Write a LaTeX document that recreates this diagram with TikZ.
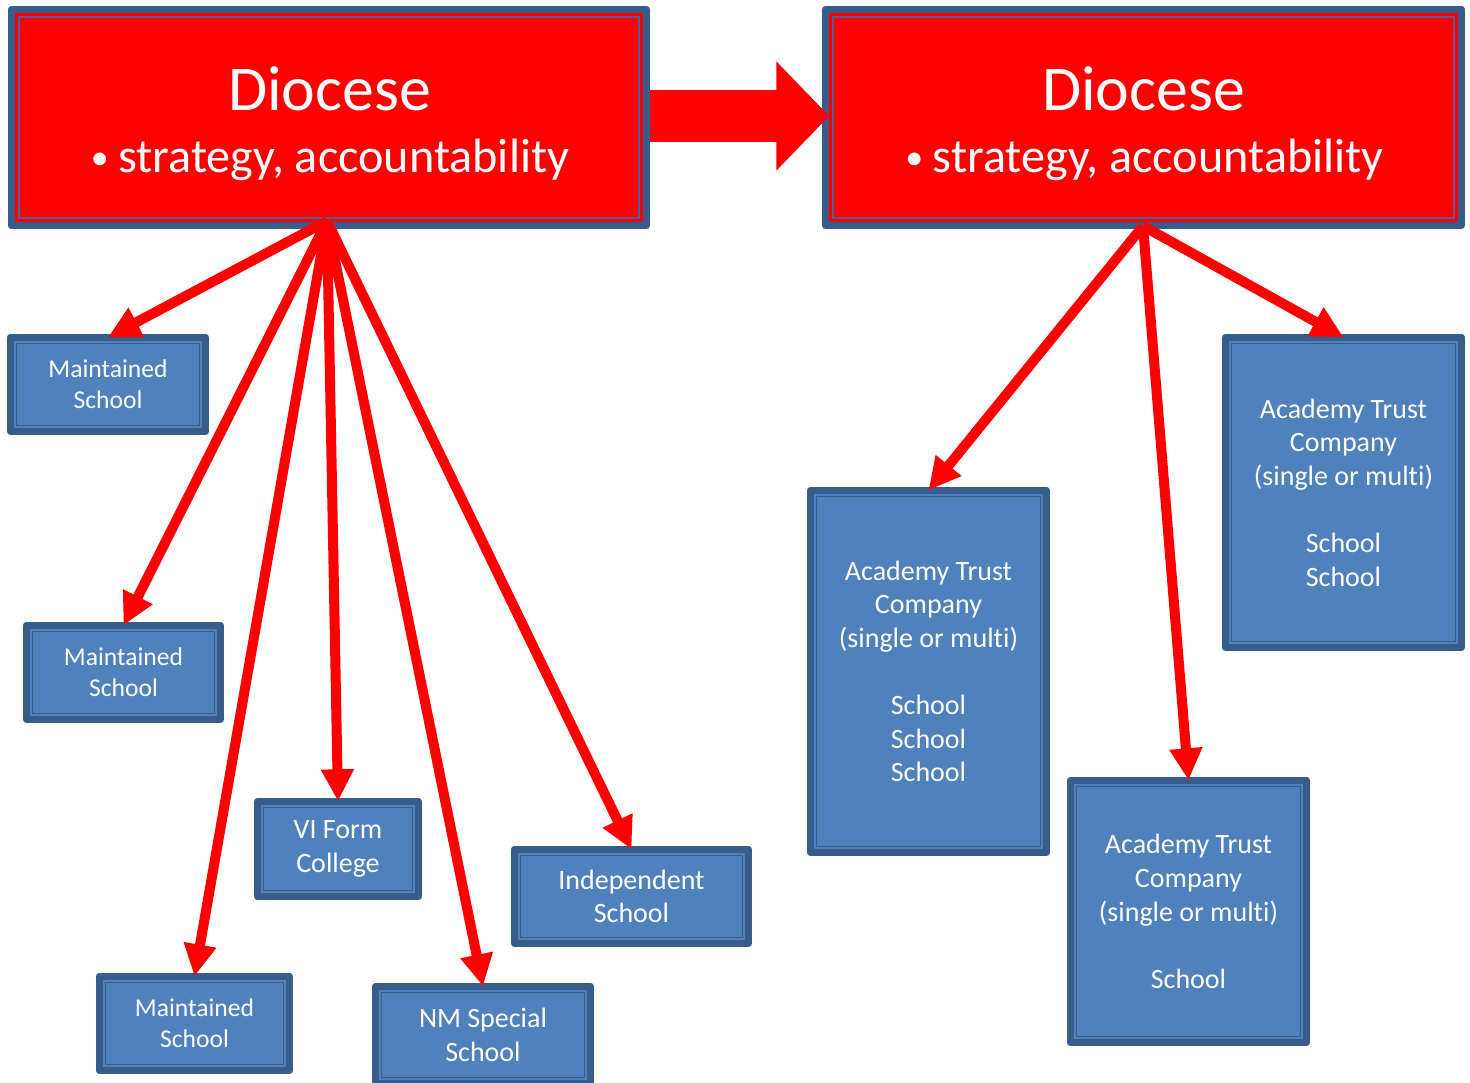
\documentclass[tikz,border=0pt]{standalone}
\usepackage{fontspec}
\setmainfont{Carlito}[Ligatures=NoCommon]
\usetikzlibrary{arrows.meta,calc}
\definecolor{bdark}{HTML}{385D8A}
\definecolor{bfill}{HTML}{4F81BD}
\definecolor{rinner}{HTML}{50609A}
\newcommand{\mybullet}{\raisebox{3pt}{\fontsize{36}{40}\selectfont\textbullet}\hspace{9.5pt}}
\begin{document}
\begin{tikzpicture}[x=1pt,y=-1pt,
  boxbase/.style={draw=bdark, line width=6.6pt, line join=round, outer sep=0pt, inner sep=0pt, text=white, align=center},
  bluebox/.style={boxbase, fill=bfill, font=\fontsize{28}{33.6}\selectfont},
  msbox/.style={bluebox, font=\fontsize{25.6}{30.7}\selectfont},
  redbox/.style={boxbase, fill=red},
  innerb/.style={draw=bdark, line width=1.4pt},
  innerr/.style={draw=rinner, line width=2pt},
  dtitle/.style={text=white, inner sep=0pt, font=\fontsize{63.8}{70}\selectfont},
  dbullet/.style={text=white, inner sep=0pt, font=\fontsize{48.2}{56}\selectfont},
  arr/.style={draw=red, line width=10pt, -{Triangle[length=32pt,width=31pt]}},
  bigarr/.style={draw=red, line width=52pt, -{Triangle[length=53pt,width=106pt]}, shorten >=-4pt, shorten <=3.3pt}
]
\useasboundingbox (0,0) rectangle (1470,1082);
\clip (0,0) rectangle (1470,1082);

% Diocese boxes
\node[redbox, minimum width=635.4pt, minimum height=216.4pt] (dioL) at (329,117.5) {};
\node[redbox, minimum width=636.4pt, minimum height=216.4pt] (dioR) at (1143.5,117.5) {};
\foreach \n in {dioL,dioR}
  \draw[innerr] ([shift={(7.7pt,-7.7pt)}]\n.north west) rectangle ([shift={(-7.7pt,7.7pt)}]\n.south east);
\node[dtitle, anchor=base] (dioLt) at (329.5,110) {Diocese};
\node[dbullet, anchor=base] (dioLb) at (330,172) {\mybullet strategy, accountability};
\node[dtitle, anchor=base] (dioRt) at (1143.5,110) {Diocese};
\node[dbullet, anchor=base] (dioRb) at (1144.5,172) {\mybullet strategy, accountability};

% school boxes
\node[msbox, minimum width=195.4pt, minimum height=94.4pt] (ms1) at (108,384.5) {Maintained\\School};
\node[msbox, minimum width=194.4pt, minimum height=94.4pt] (ms2) at (123.5,672.5) {Maintained\\School};
\node[msbox, minimum width=190.4pt, minimum height=94.4pt] (ms3) at (194.5,1023.5) {Maintained\\School};
\node[bluebox, minimum width=161.4pt, minimum height=95.4pt] (vi) at (338,849) {VI Form\\College};
\node[bluebox, minimum width=215.4pt, minimum height=97.4pt] (nm) at (483,1035) {NM Special\\School};
\node[bluebox, minimum width=234.4pt, minimum height=94.4pt] (ind) at (631.5,896.5) {Independent\\School};
\node[bluebox, minimum width=236.4pt, minimum height=362.4pt] (ac1) at (928.5,671.5)
  {Academy Trust\\Company\\(single or multi)\\[33.6pt]School\\School\\School};
\node[bluebox, minimum width=236.4pt, minimum height=310.4pt] (ac2) at (1343.5,492.5)
  {Academy Trust\\Company\\(single or multi)\\[33.6pt]School\\School};
\node[bluebox, minimum width=236.4pt, minimum height=262.4pt] (ac3) at (1188.5,911.5)
  {Academy Trust\\Company\\(single or multi)\\[33.6pt]School};
\foreach \n in {ms1,ms2,ms3,vi,nm,ind,ac1,ac2,ac3}
  \draw[innerb] ([shift={(6.35pt,-6.35pt)}]\n.north west) rectangle ([shift={(-6.35pt,6.35pt)}]\n.south east);

% connectors
\coordinate (sL) at (327,221);
\coordinate (sR) at (1143,226);
\foreach \t in {ms1,ms2,ms3,vi,nm,ind}
  \draw[arr] (sL) -- (\t.north);
\foreach \t in {ac1,ac2,ac3}
  \draw[arr] (sR) -- (\t.north);
\draw[bigarr] ($(dioL.east)+(0,-1.5)$) -- ($(dioR.west)+(0,-1.5)$);
\end{tikzpicture}
\end{document}
